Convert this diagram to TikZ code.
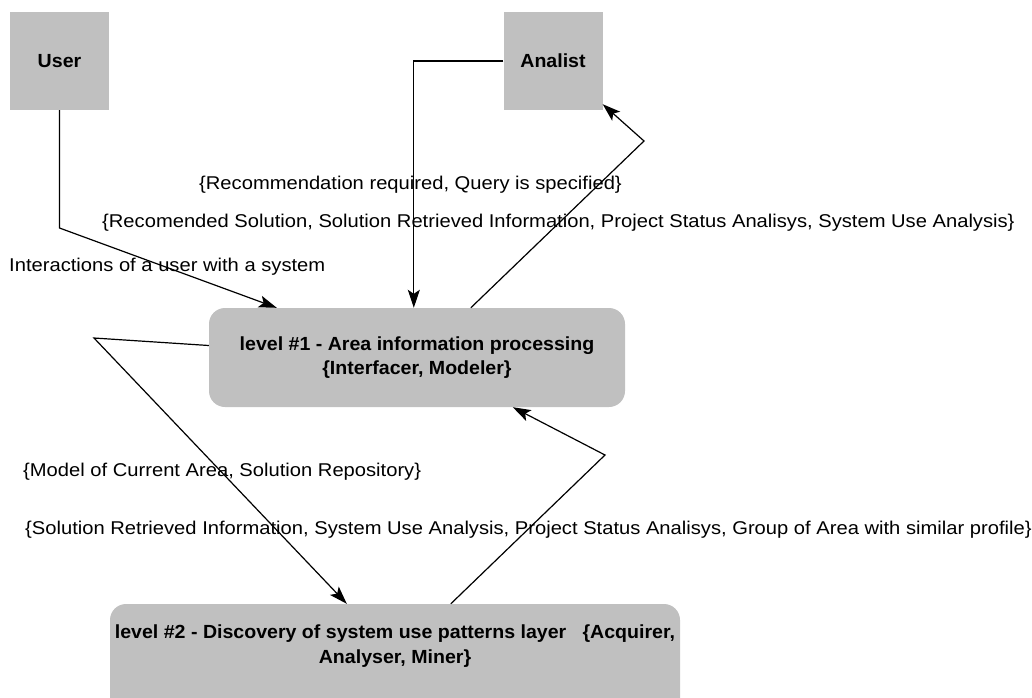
\documentclass[tikz,border=0pt]{standalone}
\usepackage{fontspec}
\setmainfont{Liberation Sans}
\newfontfamily\titlefont{Liberation Sans}[FakeStretch=1.03]
\newfontfamily\labelfont{Liberation Sans}[FakeStretch=1.09]
\usetikzlibrary{arrows.meta}
\definecolor{boxgray}{RGB}{192,192,192}
\tikzset{
  actor/.style={fill=boxgray, draw=none, minimum width=99pt, minimum height=98pt, inner sep=0pt, font=\titlefont\bfseries\fontsize{19}{24}\selectfont},
  layer/.style={fill=boxgray, draw=none, rounded corners=16pt, inner sep=0pt, align=center, font=\titlefont\bfseries\fontsize{19}{24.5}\selectfont},
  conn/.style={draw=black, line width=1.2pt},
  arr/.style={conn, -{Stealth[length=18pt, width=12pt, inset=4pt]}},
  lbl/.style={anchor=west, inner sep=0pt, font=\labelfont\fontsize{18.5}{20}\selectfont}
}
\begin{document}
\begin{tikzpicture}[x=1pt, y=-1pt]
\useasboundingbox (0,0) rectangle (1032,697);
\clip (0,0) rectangle (1032,697);
% boxes
\node[actor] (us) at (59.5,61) {User};
\node[actor] (an) at (553,61) {Analist};
\node[layer, minimum width=416pt, minimum height=99pt] (l1) at (417,357.5) {level \#1 - Area information processing\\{\{}Interfacer, Modeler\}};
\node[layer, minimum width=570pt, minimum height=110pt, text depth=30pt] (l2) at (395,659) {level \#2 - Discovery of system use patterns layer\ \ \ \{Acquirer,\\Analyser, Miner\}};
% bend points
\coordinate (b1) at (59.5,228);
\coordinate (b2) at (644,141);
\coordinate (b3) at (94,338);
\coordinate (b4) at (605,455);
% connectors
\draw[arr] (us.south) -- (b1) -- ([xshift=68pt]l1.north west);
\draw[arr] (an.west) -| ([xshift=205pt]l1.north west);
\draw[arr] ([xshift=262pt]l1.north west) -- (b2) -- ([yshift=6pt]an.south east);
\draw[arr] ([yshift=12pt]l1.west) -- (b3) -- ([xshift=237pt]l2.north west);
\draw[arr] ([xshift=341pt]l2.north west) -- (b4) -- ([xshift=304pt]l1.south west);
% labels
\node[lbl] (t1) at (199,185) {\{Recommendation required, Query is specified\}};
\node[lbl] (t2) at (102,223) {\{Recomended Solution, Solution Retrieved Information, Project Status Analisys, System Use Analysis\}};
\node[lbl] (t3) at (9,267) {Interactions of a user with a system};
\node[lbl] (t4) at (23,472) {\{Model of Current Area, Solution Repository\}};
\node[lbl] (t5) at (25,530) {\{Solution Retrieved Information, System Use Analysis, Project Status Analisys, Group of Area with similar profile\}};
\end{tikzpicture}
\end{document}
